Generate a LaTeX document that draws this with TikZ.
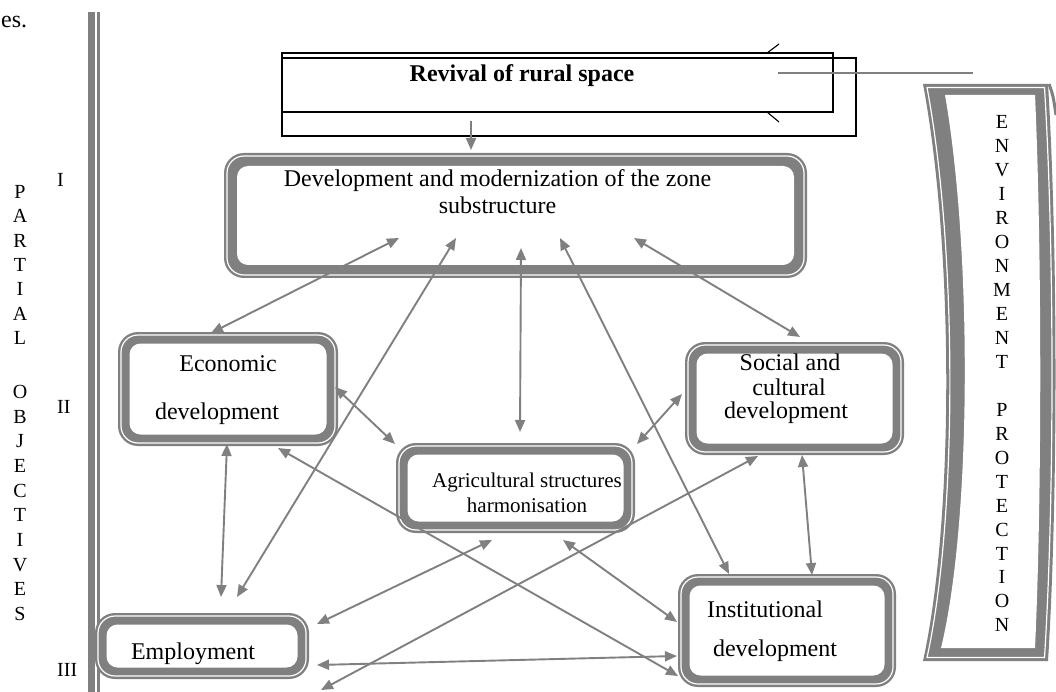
\documentclass[tikz,border=0pt]{standalone}
\usepackage{fontspec}
\setmainfont{Liberation Serif}
\usetikzlibrary{arrows.meta}
\definecolor{gline}{HTML}{808080}
\tikzset{
  conn/.style={draw=gline, line width=1.9pt, {Triangle[length=12pt,width=10pt]}-{Triangle[length=12pt,width=10pt]}},
  connone/.style={draw=gline, line width=1.9pt, -{Triangle[length=12pt,width=10pt]}},
  frame/.style={draw=none, rectangle, inner sep=0pt, outer sep=0pt},
  lbl/.style={inner sep=0pt, font=\fontsize{24}{28}\selectfont},
  small/.style={inner sep=0pt, font=\fontsize{21}{25}\selectfont},
  side/.style={inner sep=0pt, font=\fontsize{20}{24}\selectfont},
  banner/.style={draw=black, line width=1.3pt, rectangle, inner sep=0pt, outer sep=0pt},
}
\newcommand\gframe[6]{%
  \fill[gline, rounded corners=20pt] (#1,#2) rectangle (#3,#4);
  \draw[white, line width=1.2pt, rounded corners=17pt] (#1+3,#2+3) rectangle (#3-3,#4-3);
  \fill[white, rounded corners=11pt] (#1+#6,#2+#6) rectangle (#3-#6,#4-#6);
  \node[frame, minimum width={#3-#1}, minimum height={#4-#2}] (#5) at ({(#1+#3)/2},{(#2+#4)/2}) {};
}
\begin{document}
\begin{tikzpicture}[x=1pt,y=-1pt]
\useasboundingbox (0,0) rectangle (1056,692);
\fill[white] (0,0) rectangle (1056,692);

% top-left fragment
\node[lbl, anchor=base west] (es) at (1,27.5) {es.};

% vertical separator
\fill[gline] (88,12) rectangle (99.5,692);
\draw[white, line width=1.1pt] (96,12) -- (96,692);

% banner
\node[banner, minimum width=551, minimum height=59] (revA) at (557.5,82.5) {};
\node[banner, minimum width=574, minimum height=78] (revB) at (569,97) {};
\draw[black, line width=1.1pt] (767,53) -- (779,44);
\draw[black, line width=1.1pt] (767,112) -- (779,122);
\draw[gline, line width=1.3pt] (778,73) -- (973,73);
\node[lbl, anchor=base, font=\fontsize{24}{28}\selectfont\bfseries] (revt) at (522,82) {Revival of rural space};

% boxes
\gframe{224}{153}{807}{278}{dev}{13}
\gframe{118}{332}{338}{446}{eco}{11.5}
\gframe{685}{342}{904}{455}{soc}{11.5}
\gframe{396}{443}{635}{533}{agr}{11.5}
\gframe{678}{574}{896}{687}{ins}{11.5}
\gframe{95}{613}{309}{679}{emp}{11.5}

% environment scroll
\fill[gline] (923,84) .. controls (954,250) and (954,520) .. (923,661) -- (1048,661)
  .. controls (1058,500) and (1058,250) .. (1048,84) -- cycle;
\draw[white, line width=1.2pt] (927,87.5) .. controls (957.5,250) and (957.5,520) .. (927,657.5) -- (1044.5,657.5)
  .. controls (1054.5,500) and (1054.5,250) .. (1044.5,87.5) -- cycle;
\fill[white] (945,95) .. controls (972,250) and (972,520) .. (941,648) -- (1035,648)
  .. controls (1042,500) and (1042,250) .. (1035,95) -- cycle;
\draw[gline, line width=3pt] (1049,84) .. controls (1053,95) .. (1056,115);

% texts
\node[lbl, anchor=base] (devt1) at (497.5,187) {Development and modernization of the zone};
\node[lbl, anchor=base] (devt2) at (497.5,214) {substructure};
\node[lbl, anchor=base] (ecot1) at (228,371) {Economic};
\node[lbl, anchor=base] (ecot2) at (217,419) {development};
\node[lbl, anchor=base] (empt) at (193,659) {Employment};
\node[small, anchor=base] (agrt1) at (527,487) {Agricultural structures};
\node[small, anchor=base] (agrt2) at (527,512.5) {harmonisation};
\node[lbl, anchor=base] (soct1) at (790,370) {Social and};
\node[lbl, anchor=base] (soct2) at (789,395) {cultural};
\node[lbl, anchor=base] (soct3) at (786,418) {development};
\node[lbl, anchor=base] (inst1) at (765,617) {Institutional};
\node[lbl, anchor=base] (inst2) at (775,656) {development};

% side labels
\node[side, anchor=base west] (r1) at (57,186.6) {I};
\node[side, anchor=base west] (r2) at (57,413.6) {II};
\node[side, anchor=base west] (r3) at (57,676.6) {III};
\foreach \c [count=\i from 0] in {P,A,R,T,I,A,L}
  \node[side, anchor=base] (pa\i) at (20,{198.6+24.33*\i}) {\c};
\foreach \c [count=\i from 0] in {O,B,J,E,C,T,I,V,E,S}
  \node[side, anchor=base] (ob\i) at (20,{398.6+24.67*\i}) {\c};
\foreach \c [count=\i from 0] in {E,N,V,I,R,O,N,M,E,N,T}
  \node[side, anchor=base] (en\i) at (1002,{128.6+24*\i}) {\c};
\foreach \c [count=\i from 0] in {P,R,O,T,E,C,T,I,O,N}
  \node[side, anchor=base] (pr\i) at (1002,{416.6+23.9*\i}) {\c};

% connectors
\coordinate (socend) at (321,690);
\draw[connone] ([shift={(-98,24)}]revB.center) -- ([shift={(-44.5,-65.5)}]dev.center);
\draw[conn] ([shift={(-116.5,22.5)}]dev.center) -- ([shift={(-17,-56)}]eco.center);
\draw[conn] ([shift={(-59.5,22.5)}]dev.center) -- ([shift={(35,-49)}]emp.center);
\draw[conn] ([shift={(5.5,32.5)}]dev.center) -- ([shift={(4.5,-56)}]agr.center);
\draw[conn] ([shift={(44.5,22.5)}]dev.center) -- ([shift={(-58,-56.5)}]ins.center);
\draw[conn] ([shift={(118.5,22.5)}]dev.center) -- ([shift={(5.5,-61.5)}]soc.center);
\draw[conn] ([shift={(-1,55)}]eco.center) -- ([shift={(19,-49)}]emp.center);
\draw[conn] ([shift={(107,-2)}]eco.center) -- ([shift={(-120.5,-44)}]agr.center);
\draw[conn] ([shift={(50,59)}]eco.center) -- ([shift={(-109,45.5)}]ins.center);
\draw[conn] ([shift={(115,-22)}]emp.center) -- ([shift={(-23.5,52)}]agr.center);
\draw[conn] ([shift={(115,19)}]emp.center) -- ([shift={(-110,25.5)}]ins.center);
\draw[conn] ([shift={(-36.5,57.5)}]soc.center) -- (socend);
\draw[conn] ([shift={(-112.5,-4.5)}]soc.center) -- ([shift={(121.5,-44)}]agr.center);
\draw[conn] ([shift={(47.5,52)}]agr.center) -- ([shift={(-110,-8.5)}]ins.center);
\draw[conn] ([shift={(7.5,56.5)}]soc.center) -- ([shift={(25,-55.5)}]ins.center);
\end{tikzpicture}
\end{document}
